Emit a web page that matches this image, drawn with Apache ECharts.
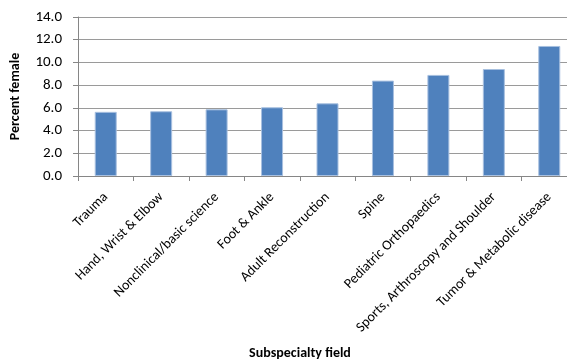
<!DOCTYPE html>
<html>
<head>
<meta charset="utf-8">
<script src="https://cdn.jsdelivr.net/npm/echarts@6/dist/echarts.min.js"></script>
<style>html,body{margin:0;padding:0;background:#fff;}#c{width:567px;height:359px;}</style>
</head>
<body>
<div id="c"></div>
<script>
const categories = ["Trauma", "Hand, Wrist & Elbow", "Nonclinical/basic science", "Foot & Ankle", "Adult Reconstruction", "Spine", "Pediatric Orthopaedics", "Sports, Arthroscopy and Shoulder", "Tumor & Metabolic disease"];
const percentFemale = [5.65, 5.7, 5.87, 6.05, 6.4, 8.4, 8.9, 9.42, 11.45];
const yTicks = { min: 0, max: 14, interval: 2 };
const xAxisTitle = "Subspecialty field";
const yAxisTitle = "Percent female";

const font = "Carlito, Lato, sans-serif";
const chart = echarts.init(document.getElementById('c'), null, { renderer: 'canvas' });
chart.setOption({
  animation: false,
  grid: { left: 78, top: 17, bottom: 183, width: 499, containLabel: false, outerBoundsMode: 'none' },
  xAxis: {
    type: 'category',
    data: categories,
    name: xAxisTitle,
    nameLocation: 'middle',
    nameGap: 170,
    nameMoveOverlap: false,
    nameTextStyle: { fontFamily: font, fontWeight: 'bold', fontSize: 14, color: '#000', padding: [0, 55, 0, 0] },
    axisLine: { lineStyle: { color: '#868686', width: 1 } },
    axisTick: { show: true, alignWithLabel: false, length: 5, lineStyle: { color: '#868686' } },
    axisLabel: { rotate: 45, interval: 0, margin: 19, fontFamily: font, fontSize: 14, color: '#000' }
  },
  yAxis: {
    type: 'value',
    min: yTicks.min, max: yTicks.max, interval: yTicks.interval,
    name: yAxisTitle,
    nameLocation: 'middle',
    nameGap: 56,
    nameMoveOverlap: false,
    nameRotate: 90,
    nameTextStyle: { fontFamily: font, fontWeight: 'bold', fontSize: 14, color: '#000' },
    axisLine: { show: true, lineStyle: { color: '#868686', width: 1 } },
    axisTick: { show: true, length: 5, lineStyle: { color: '#868686' } },
    axisLabel: { margin: 16, fontFamily: font, fontSize: 15, color: '#000', formatter: v => v.toFixed(1) },
    splitLine: { lineStyle: { color: '#9a9a9a', width: 1 } }
  },
  series: [{
    type: 'bar',
    data: percentFemale,
    barWidth: 22,
    itemStyle: { color: '#4F81BD', borderColor: '#a8c0e0', borderWidth: 1 }
  }]
});
</script>
</body>
</html>
